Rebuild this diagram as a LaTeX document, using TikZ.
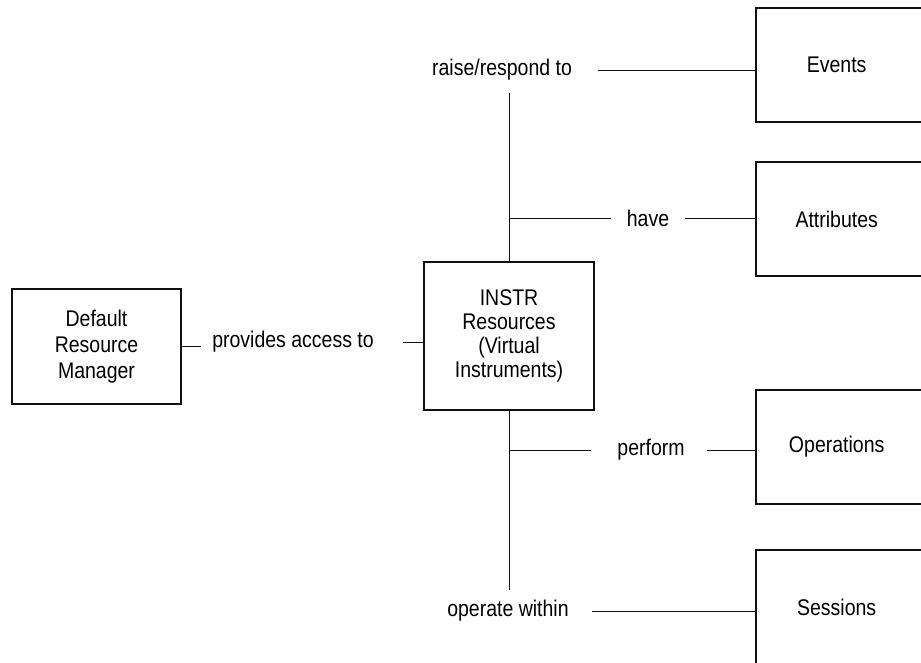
\documentclass[tikz,border=0pt]{standalone}
\usepackage{fontspec}
\setmainfont{Liberation Sans}[FakeStretch=0.86]
\usetikzlibrary{positioning}
\definecolor{TraitNoir}{HTML}{111111}

\begin{document}
\begin{tikzpicture}[x=0.75pt,y=-0.75pt,
    boite/.style={draw=TraitNoir, line width=1.3pt, align=center, inner sep=0pt,
        font=\fontsize{17}{19.5}\selectfont},
    grande/.style={boite, minimum width=129pt, minimum height=85.5pt},
    etiq/.style={inner sep=0pt, font=\fontsize{17}{19.5}\selectfont},
    lien/.style={draw=TraitNoir, line width=0.65pt}]
    \clip (0,0) rectangle (921,662);
    \fill[white] (0,0) rectangle (921,662);
    % les boites
    \node[boite, minimum width=126.75pt, minimum height=86.25pt] (drm) at (96.5,346.5) {Default\\Resource\\Manager};
    \node[boite, minimum width=127.5pt, minimum height=111pt, font=\fontsize{17}{18}\selectfont] (instr) at (509,336) {INSTR\\Resources\\(Virtual\\Instruments)};
    \node[grande] (events) at (842,65) {\hspace*{-8pt}Events};
    \node[grande] (attr) at (842,219) {\hspace*{-8pt}Attributes};
    \node[grande] (oper) at (842,447) {\hspace*{-8pt}Operations};
    \node[grande] (sess) at (842,607) {\hspace*{-8pt}Sessions};
    % les etiquettes
    \node[etiq] (acces) at (293,342) {provides access to};
    \node[etiq] (raise) at (502,70) {raise/respond to};
    \node[etiq] (have) at (648,218) {have};
    \node[etiq] (perform) at (651,450) {perform};
    \node[etiq] (within) at (508,611) {operate within};
    % les liens
    \draw[lien, shorten >=8pt] (drm.east) -- (drm.east -| acces.west);
    \draw[lien, shorten <=22pt] (acces.east) -- (acces.east -| instr.west);
    \draw[lien, shorten >=9pt] (instr.north) -- (instr.north |- raise.south);
    \draw[lien, shorten <=19.5pt] (raise.east) -- (raise.east -| events.west);
    \draw[lien, shorten >=12pt] (instr.north |- have.west) -- (have.west);
    \draw[lien, shorten <=12pt] (have.east) -- (have.east -| attr.west);
    \draw[lien, shorten >=7.5pt] (instr.south) -- (instr.south |- within.north);
    \draw[lien, shorten >=19.5pt] (instr.south |- perform.west) -- (perform.west);
    \draw[lien, shorten <=16.5pt] (perform.east) -- (perform.east -| oper.west);
    \draw[lien, shorten <=17pt] (within.east) -- (within.east -| sess.west);
\end{tikzpicture}
\end{document}
